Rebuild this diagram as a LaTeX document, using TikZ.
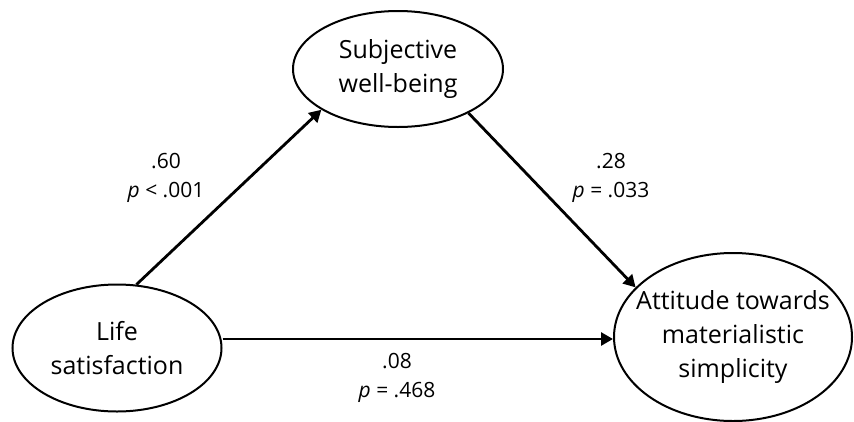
\documentclass[tikz,border=0pt]{standalone}
\usepackage{fontspec}
\setmainfont{Open Sans}
\usetikzlibrary{shapes.geometric,arrows.meta}
\begin{document}
\begin{tikzpicture}[x=1pt,y=-1pt,
  var/.style={draw,line width=2pt,ellipse,inner sep=0pt,align=center,font=\fontsize{25}{34}\selectfont},
  lab/.style={align=center,font=\fontsize{21}{29}\selectfont},
  arr/.style={line width=2.8pt,-{Triangle[length=12pt,width=13pt]}}]
\useasboundingbox (0,0) rectangle (854,421);
\node[var,minimum width=210pt,minimum height=116pt] (swb) at (398,69) {Subjective\\well-being};
\node[var,minimum width=209pt,minimum height=127pt] (ls) at (117,348) {Life\\satisfaction};
\node[var,inner xsep=-15pt,minimum width=238pt,minimum height=168pt] (ams) at (733,337) {Attitude towards\\materialistic\\simplicity};
\draw[arr] (ls.73) -- (swb.208);
\draw[arr] (swb.-32) -- (ams.153);
\draw[arr] (ls.east |- 0,339) -- (ams.west |- 0,339);
\node[lab] (l1) at (166,178) {.60\\\textit{p} < .001};
\node[lab] (l2) at (611,178) {.28\\\textit{p} = .033};
\node[lab] (l3) at (397,378) {.08\\\textit{p} = .468};
\end{tikzpicture}
\end{document}
